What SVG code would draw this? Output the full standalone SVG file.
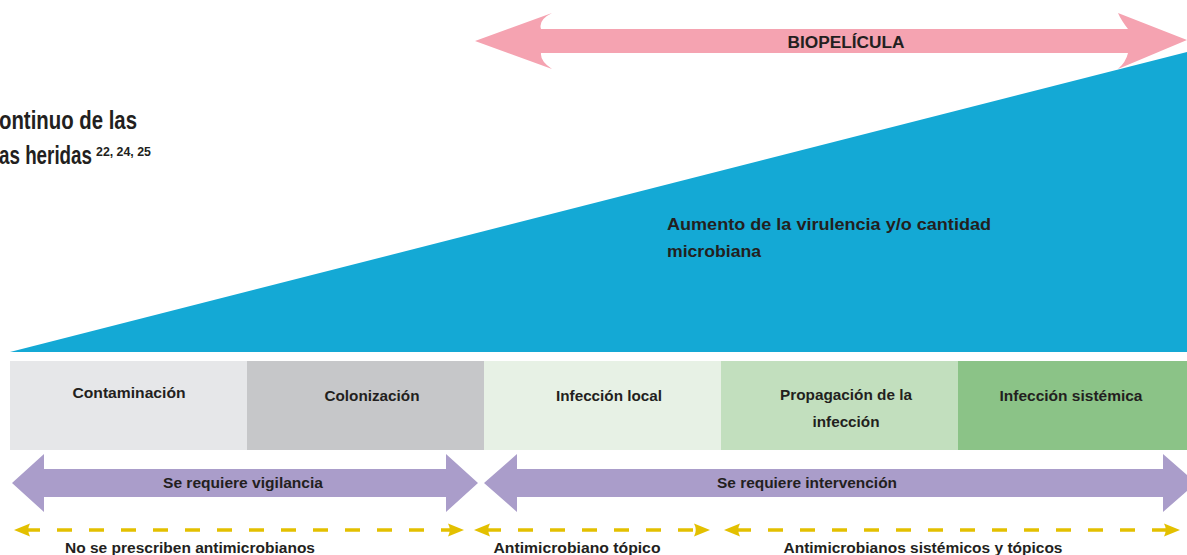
<svg xmlns="http://www.w3.org/2000/svg" width="1187" height="555" viewBox="0 0 1187 555">
<style>
text{font-family:"Liberation Sans",Arial,sans-serif;font-weight:bold;fill:#231f20;}
.lbl{font-size:15px;text-anchor:middle;}
.ttl{font-size:26px;}
.dash{stroke:#e3c000;stroke-width:3.5;fill:none;stroke-dasharray:15 17;marker-start:url(#ya);marker-end:url(#ya);}
</style>
<defs>
<marker id="ya" markerUnits="userSpaceOnUse" markerWidth="20" markerHeight="16" viewBox="0 0 20 16" refX="17" refY="8" orient="auto-start-reverse">
<path d="M17,8 L1,1.5 Q4.5,8 1,14.5 Z" fill="#e3c000"/>
</marker>
</defs>
<rect width="1187" height="555" fill="#ffffff"/>
<g id="title">
<text class="ttl" x="-1" y="129" textLength="138" lengthAdjust="spacingAndGlyphs">ontinuo de las</text>
<text class="ttl" x="-1" y="164"><tspan textLength="93" lengthAdjust="spacingAndGlyphs">as heridas</tspan><tspan x="96" y="156" font-size="12" textLength="55" lengthAdjust="spacingAndGlyphs">22, 24, 25</tspan></text>
</g>
<g id="virulencia">
<path d="M10,352 L1187,52 L1187,352 Z" fill="#14a9d5"/>
<text x="667" y="230" font-size="17" textLength="324" lengthAdjust="spacingAndGlyphs">Aumento de la virulencia y/o cantidad</text>
<text x="667" y="257" font-size="17" textLength="94" lengthAdjust="spacingAndGlyphs">microbiana</text>
</g>
<g id="biopelicula">
<path d="M475,41 L552,13 Q538,20 541,29 L1128,29 Q1121,20 1118,13 L1187,40 L1118,69 Q1126,62 1128,53 L541,53 Q540,61 552,69 Z" fill="#f5a3b1"/>
<text x="846" y="48" font-size="16" text-anchor="middle" textLength="117" lengthAdjust="spacingAndGlyphs">BIOPELÍCULA</text>
</g>
<g id="contaminacion">
<rect x="10" y="361" width="237" height="89" fill="#e6e7e9"/>
<text class="lbl" x="129" y="398" textLength="113" lengthAdjust="spacingAndGlyphs">Contaminación</text>
</g>
<g id="colonizacion">
<rect x="247" y="361" width="237" height="89" fill="#c6c7c9"/>
<text class="lbl" x="372" y="401" textLength="95" lengthAdjust="spacingAndGlyphs">Colonización</text>
</g>
<g id="infeccion-local">
<rect x="484" y="361" width="237" height="89" fill="#e7f1e5"/>
<text class="lbl" x="609" y="401" textLength="106" lengthAdjust="spacingAndGlyphs">Infección local</text>
</g>
<g id="propagacion">
<rect x="721" y="361" width="237" height="89" fill="#c2dfbe"/>
<text class="lbl" x="846" y="400" textLength="132" lengthAdjust="spacingAndGlyphs">Propagación de la</text>
<text class="lbl" x="846" y="427" textLength="67" lengthAdjust="spacingAndGlyphs">infección</text>
</g>
<g id="infeccion-sistemica">
<rect x="958" y="361" width="229" height="89" fill="#8bc387"/>
<text class="lbl" x="1071" y="401" textLength="143" lengthAdjust="spacingAndGlyphs">Infección sistémica</text>
</g>
<g id="vigilancia">
<path d="M12,483 L44,454 L44,469 L446,469 L446,454 L478,483 L446,512 L446,497 L44,497 L44,512 Z" fill="#aa9dca"/>
<text class="lbl" x="243" y="488" textLength="160" lengthAdjust="spacingAndGlyphs">Se requiere vigilancia</text>
</g>
<g id="intervencion">
<path d="M484,483 L517,454 L517,469 L1163,469 L1163,454 L1196,483 L1163,512 L1163,497 L517,497 L517,512 Z" fill="#aa9dca"/>
<text class="lbl" x="807" y="488" textLength="180" lengthAdjust="spacingAndGlyphs">Se requiere intervención</text>
</g>
<g id="connectors">
<line class="dash" x1="14" y1="530" x2="464" y2="530" stroke-dashoffset="-11"/>
<line class="dash" x1="474" y1="530" x2="710" y2="530" stroke-dashoffset="-12"/>
<line class="dash" x1="724" y1="530" x2="1180" y2="530" stroke-dashoffset="-12"/>
</g>
<g id="antimicrobianos">
<text class="lbl" x="190" y="553" textLength="250" lengthAdjust="spacingAndGlyphs">No se prescriben antimicrobianos</text>
<text class="lbl" x="577" y="553" textLength="167" lengthAdjust="spacingAndGlyphs">Antimicrobiano tópico</text>
<text class="lbl" x="923" y="553" textLength="279" lengthAdjust="spacingAndGlyphs">Antimicrobianos sistémicos y tópicos</text>
</g>
</svg>
